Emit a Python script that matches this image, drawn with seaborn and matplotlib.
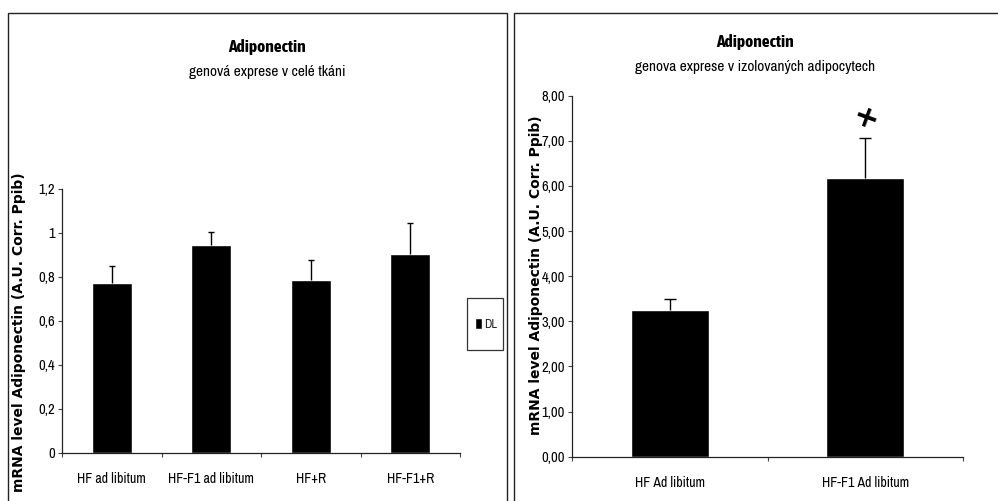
import matplotlib
matplotlib.use("Agg")
import matplotlib.pyplot as plt
from matplotlib.patches import Rectangle
from matplotlib.ticker import FixedLocator
import seaborn as sns
import pandas as pd
import numpy as np

# Whole-tissue expression (left panel)
tissue_groups = ["HF ad libitum", "HF-F1 ad libitum", "HF+R", "HF-F1+R"]
tissue_mean = [0.775, 0.945, 0.786, 0.905]
tissue_err = [0.076, 0.058, 0.093, 0.139]
tissue_ticks = [0, 0.2, 0.4, 0.6, 0.8, 1.0, 1.2]
tissue_ticklabels = ["0", "0,2", "0,4", "0,6", "0,8", "1", "1,2"]

# Isolated adipocyte expression (right panel)
cell_groups = ["HF Ad libitum", "HF-F1 Ad libitum"]
cell_mean = [3.25, 6.17]
cell_err = [0.25, 0.89]
cell_ticks = [0, 1, 2, 3, 4, 5, 6, 7, 8]
cell_ticklabels = ["0,00", "1,00", "2,00", "3,00", "4,00", "5,00", "6,00", "7,00", "8,00"]
star_y = 7.47

legend_label = "DL"
ylabel = "mRNA level Adiponectin (A.U. Corr. Ppib)"

sns.set_theme(style="white")
NARROW = ["Liberation Sans Narrow", "Archivo Narrow", "DejaVu Sans"]
NARROW_BOLD = ["Asap Condensed", "Barlow Semi Condensed", "DejaVu Sans"]
plt.rcParams["font.family"] = NARROW

fig = plt.figure(figsize=(9.98, 5.01), dpi=100)
W, H = 998, 501


def px_axes(x0, y0, x1, y1):
    return fig.add_axes([x0 / W, 1 - y1 / H, (x1 - x0) / W, (y1 - y0) / H])


def draw_errors(ax, means, errs):
    # upper-only error whiskers with a small cap
    x = np.arange(len(means))
    tops = np.asarray(means) + np.asarray(errs)
    ax.vlines(x, means, tops, color="black", linewidth=1)
    ax.hlines(tops, x - 0.03, x + 0.03, color="black", linewidth=1)


def style_axes(ax, ticks, labels, ylim):
    ax.set_ylim(*ylim)
    ax.set_yticks(ticks)
    ax.set_yticklabels(labels, fontsize=10.5, family=NARROW)
    for s in ("top", "right"):
        ax.spines[s].set_visible(False)
    for s in ("left", "bottom"):
        ax.spines[s].set_color("#222222")
        ax.spines[s].set_linewidth(0.9)
    ax.tick_params(axis="y", left=True, length=3, width=0.8, color="#444444", pad=2,
                   labelcolor="black")
    ax.tick_params(axis="x", bottom=False, length=0, pad=14, labelsize=10,
                   labelcolor="black")
    n = len(ax.get_xticks())
    ax.xaxis.set_minor_locator(FixedLocator(np.arange(-0.5, n, 1.0)))
    ax.tick_params(axis="x", which="minor", bottom=True, length=3, width=0.8,
                   color="#444444")
    for lab in ax.get_xticklabels():
        lab.set_family(NARROW)
    ax.set_xlabel("")
    ax.set_ylabel("")
    ax.set_facecolor("white")


# ---- left panel ----
axL = px_axes(62, 189, 460, 453)
dfL = pd.DataFrame({"group": tissue_groups, "value": tissue_mean})
sns.barplot(data=dfL, x="group", y="value", color="black", width=0.4,
            errorbar=None, ax=axL, saturation=1, label=legend_label)
draw_errors(axL, tissue_mean, tissue_err)
axL.set_xlim(-0.5, len(tissue_groups) - 0.5)
style_axes(axL, tissue_ticks, tissue_ticklabels, (0, 1.2))
axL.legend(loc="center", bbox_to_anchor=(486 / W, 1 - 324 / H),
           bbox_transform=fig.transFigure, frameon=False,
           handlelength=0.55, handleheight=1.0, handletextpad=0.2,
           borderpad=0, borderaxespad=0, prop={"family": NARROW, "size": 9})
# legend frame
fig.patches.append(Rectangle((467 / W, 1 - 350 / H), 36 / W, 52 / H,
                             transform=fig.transFigure, fill=False,
                             edgecolor="#333333", linewidth=0.9))

# ---- right panel ----
axR = px_axes(572, 95.7, 963, 456.7)
dfR = pd.DataFrame({"group": cell_groups, "value": cell_mean})
sns.barplot(data=dfR, x="group", y="value", color="black", width=0.4,
            errorbar=None, ax=axR, saturation=1)
draw_errors(axR, cell_mean, cell_err)
axR.set_xlim(-0.5, len(cell_groups) - 0.5)
style_axes(axR, cell_ticks, cell_ticklabels, (0, 8))
axR.text(1, star_y, "+", ha="center", va="center", fontsize=22,
         fontweight="bold", rotation=-20, family="DejaVu Sans", color="black")

# ---- titles and axis labels ----
for cx, ty, sub in [(267, 47, "genová exprese v celé tkáni"),
                    (755, 42, "genova exprese v izolovaných adipocytech")]:
    fig.text(cx / W, 1 - ty / H, "Adiponectin", ha="center", va="center",
             fontsize=12.5, fontweight="bold", family=NARROW_BOLD, color="black")
    fig.text(cx / W, 1 - (ty + 25) / H, sub, ha="center", va="center",
             fontsize=11, family=NARROW, color="black")

fig.text(19 / W, 1 - 332 / H, ylabel, rotation=90, ha="center", va="center",
         fontsize=10, fontweight="bold", family="DejaVu Sans", color="black")
fig.text(536 / W, 1 - 275 / H, ylabel, rotation=90, ha="center", va="center",
         fontsize=10, fontweight="bold", family="DejaVu Sans", color="black")

# ---- panel frames ----
fig.patches.append(Rectangle((8 / W, -0.02), (507 - 8) / W, 1 - 13 / H + 0.02,
                             transform=fig.transFigure, fill=False,
                             edgecolor="#222222", linewidth=1.0))
fig.patches.append(Rectangle((514 / W, -0.02), 1.0, 1 - 13 / H + 0.02,
                             transform=fig.transFigure, fill=False,
                             edgecolor="#222222", linewidth=1.0))

fig.savefig("out.png", dpi=100, facecolor="white")
